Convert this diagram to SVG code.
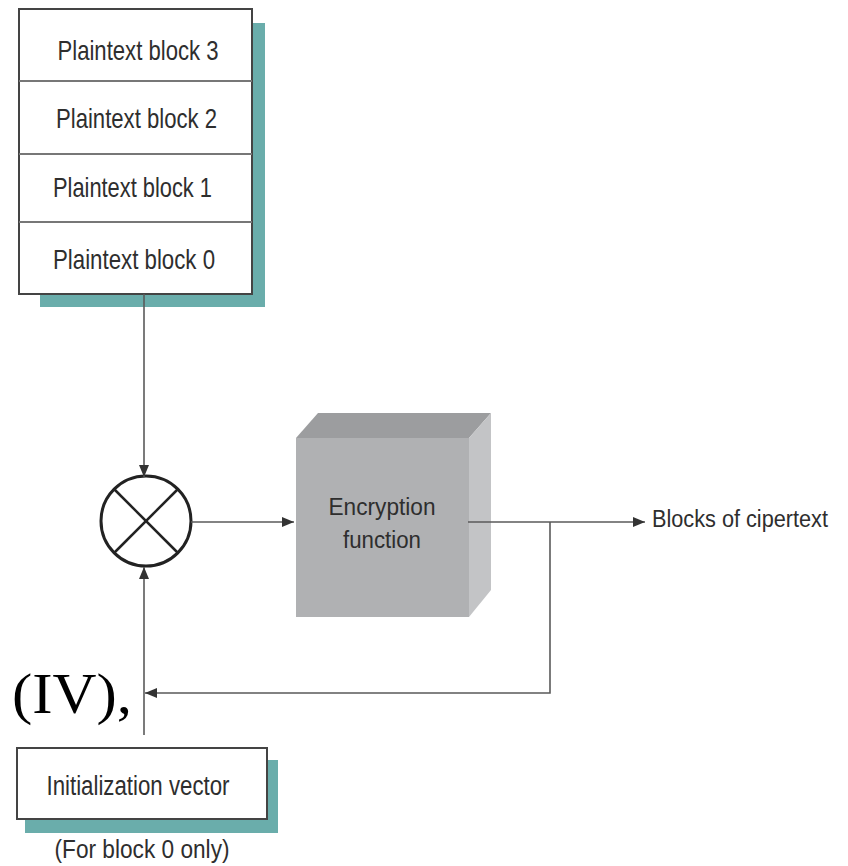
<svg xmlns="http://www.w3.org/2000/svg" width="848" height="866" viewBox="0 0 848 866">
<defs>
<style>
.lbl{font-family:"Liberation Sans",Arial,sans-serif;fill:#2e2e2e;}
.box{fill:#ffffff;stroke:#444;stroke-width:2;}
.shadow{fill:#6aadab;}
.div{stroke:#777;stroke-width:2;}
.conn{fill:none;stroke:#5a5a5a;stroke-width:1.6;}
</style>
<marker id="ah" viewBox="0 0 12 10" refX="12" refY="5" markerWidth="12" markerHeight="10" markerUnits="userSpaceOnUse" orient="auto">
<path d="M0,0 L12,5 L0,10 Z" fill="#333"/>
</marker>
</defs>
<rect width="848" height="866" fill="#ffffff"/>

<g id="plaintext-stack">
<rect class="shadow" x="40" y="23" width="225" height="284"/>
<rect class="box" x="19" y="9" width="233" height="285"/>
<line class="div" x1="19" y1="81" x2="252" y2="81"/>
<line class="div" x1="19" y1="154" x2="252" y2="154"/>
<line class="div" x1="19" y1="222" x2="252" y2="222"/>
<text class="lbl" x="138" y="60" font-size="28" text-anchor="middle" textLength="161" lengthAdjust="spacingAndGlyphs">Plaintext block 3</text>
<text class="lbl" x="136.5" y="128" font-size="28" text-anchor="middle" textLength="161" lengthAdjust="spacingAndGlyphs">Plaintext block 2</text>
<text class="lbl" x="132.5" y="197" font-size="28" text-anchor="middle" textLength="159" lengthAdjust="spacingAndGlyphs">Plaintext block 1</text>
<text class="lbl" x="134" y="269" font-size="28" text-anchor="middle" textLength="162" lengthAdjust="spacingAndGlyphs">Plaintext block 0</text>
</g>

<g id="xor">
<circle cx="146" cy="521" r="45" fill="#fff" stroke="#222" stroke-width="3"/>
<line x1="114" y1="489" x2="178" y2="553" stroke="#222" stroke-width="2.5"/>
<line x1="178" y1="489" x2="114" y2="553" stroke="#222" stroke-width="2.5"/>
</g>

<g id="encryption">
<polygon points="296,438 318,413 491,413 469,438" fill="#9c9d9f"/>
<polygon points="469,438 491,413 491,590 469,617" fill="#c3c4c6"/>
<rect x="296" y="438" width="173" height="179" fill="#b0b1b3"/>
<text class="lbl" x="382" y="515" font-size="23" text-anchor="middle" textLength="107" lengthAdjust="spacingAndGlyphs">Encryption</text>
<text class="lbl" x="382" y="548" font-size="23" text-anchor="middle" textLength="78" lengthAdjust="spacingAndGlyphs">function</text>
</g>

<g id="ciphertext-label">
<text class="lbl" x="652" y="527" font-size="23" textLength="176" lengthAdjust="spacingAndGlyphs">Blocks of cipertext</text>
</g>

<g id="iv">
<rect class="shadow" x="25" y="760" width="253" height="73"/>
<rect class="box" x="17" y="748" width="250" height="71"/>
<text class="lbl" x="138" y="795" font-size="27" text-anchor="middle" textLength="183" lengthAdjust="spacingAndGlyphs">Initialization vector</text>
<text class="lbl" x="142" y="858" font-size="26" text-anchor="middle" textLength="175" lengthAdjust="spacingAndGlyphs">(For block 0 only)</text>
</g>

<g id="iv-label">
<text x="12" y="713" font-family="'Liberation Serif','Times New Roman',serif" font-size="58" fill="#000" textLength="120" lengthAdjust="spacingAndGlyphs">(IV),</text>
</g>

<g id="connectors">
<line class="conn" x1="144" y1="294" x2="144" y2="477" marker-end="url(#ah)"/>
<line class="conn" x1="144" y1="735" x2="144" y2="567" marker-end="url(#ah)"/>
<line class="conn" x1="191" y1="522" x2="294" y2="522" marker-end="url(#ah)"/>
<line class="conn" x1="468" y1="522" x2="645" y2="522" marker-end="url(#ah)"/>
<polyline class="conn" points="550,522 550,693 145,693" marker-end="url(#ah)"/>
</g>
</svg>
